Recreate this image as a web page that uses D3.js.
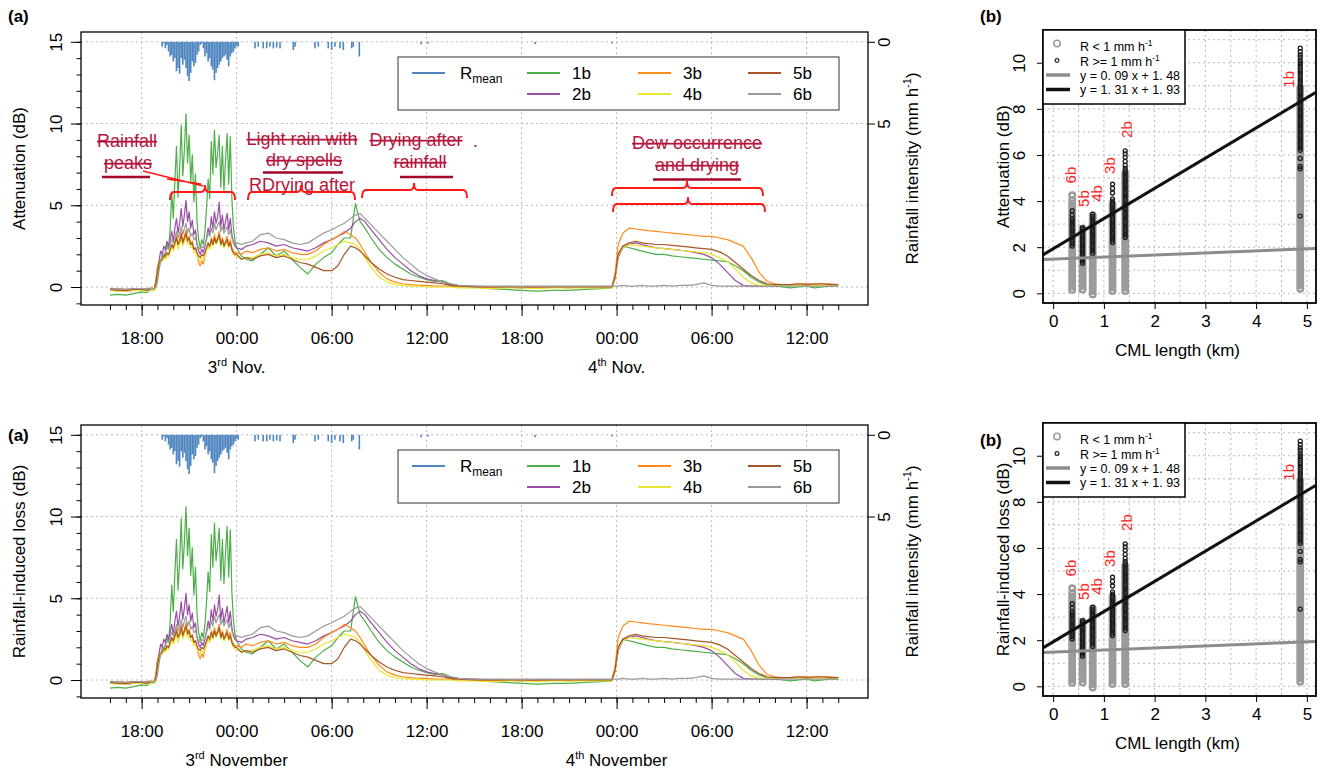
<!DOCTYPE html>
<html>
<head>
<meta charset="utf-8">
<script src="https://cdnjs.cloudflare.com/ajax/libs/d3/7.8.5/d3.min.js"></script>
<style>
  body { margin: 0; background: #fff; }
  svg { font-family: "Liberation Sans", Arial, sans-serif; }
</style>
</head>
<body>
<svg id="fig" width="1320" height="770"></svg>
<script>
// ---- data ----
// hours after 16:00 on 2 Nov
var attHours = [0, 0.5, 1, 1.5, 2, 2.3, 2.6,
  2.8, 2.9, 3.0, 3.1, 3.2, 3.3, 3.4, 3.5, 3.6, 3.7, 3.8, 3.9, 4.0, 4.1, 4.2, 4.3, 4.4, 4.5, 4.6, 4.7, 4.8, 4.9,
  5.0, 5.1, 5.2, 5.3, 5.4, 5.5, 5.6, 5.7, 5.8, 5.9, 6.0, 6.1, 6.2, 6.3, 6.4, 6.5, 6.6, 6.7, 6.8, 6.9,
  7.0, 7.1, 7.2, 7.3, 7.4, 7.5, 7.6, 7.7, 7.8, 7.9, 8.0,
  8.3, 8.6, 9, 9.5, 10, 10.5, 11, 11.5, 12, 12.5, 13, 13.5, 14, 14.4, 14.8, 15.2, 15.5, 15.8, 16.1, 16.5,
  17, 17.5, 18, 18.5, 19, 19.5, 20, 20.5, 21, 21.5,
  22, 23, 24, 25, 26, 27, 28, 29, 30, 31, 31.7,
  31.9, 32.1, 32.4, 32.8, 33.2, 33.6, 34, 34.5, 35, 35.5, 36, 36.5, 37, 37.5, 38, 38.5, 39, 39.5, 40, 40.5,
  41, 41.5, 42, 42.5, 43, 43.5, 44, 44.5, 45, 45.5, 46]

var att1b = [-0.5, -0.45, -0.5, -0.4, -0.3, -0.35, -0.15,
  -0.2, 0.3, 1.2, 1.6, 1.5, 2.0, 1.8, 2.2, 2.6, 2.3, 3.5, 5.8, 4.2, 6.5, 8.6, 5.5, 7.2, 9.9, 6.8, 8.4, 10.6, 7.6,
  9.3, 6.4, 8.1, 5.2, 6.9, 4.0, 2.9, 2.4, 2.9, 2.6, 3.4, 4.8, 6.6, 5.4, 8.9, 6.9, 9.6, 7.3, 8.2, 9.3,
  6.1, 8.6, 5.9, 7.8, 9.4, 6.3, 9.2, 5.4, 3.6, 2.8, 2.4,
  1.9, 1.7, 1.6, 2.0, 2.4, 1.9, 2.2, 1.7, 1.2, 0.8, 1.4, 1.8, 2.1, 2.6, 3.0, 3.0, 5.1, 4.0, 3.6, 3.0,
  2.3, 1.8, 1.4, 1.1, 0.8, 0.6, 0.45, 0.35, 0.4, 0.2,
  0.1, 0.0, -0.1, -0.15, -0.2, -0.25, -0.2, -0.2, -0.15, -0.1, -0.05,
  0.6, 2.0, 2.5, 2.4, 2.3, 2.2, 2.1, 2.0, 2.0, 1.9, 1.85, 1.8, 1.75, 1.7, 1.65, 1.6, 1.55, 1.3, 1.0, 0.6,
  0.3, 0.15, 0.05, 0.0, -0.05, 0.0, 0.05, -0.05, 0.0, 0.05, 0.05]

var att2b = [-0.2, -0.2, -0.25, -0.2, -0.2, -0.2, -0.1,
  -0.1, 0.1, 0.5, 1.6, 2.2, 2.0, 2.5, 2.3, 2.8, 2.5, 2.9, 3.4, 2.8, 3.6, 4.2, 3.3, 3.9, 4.8, 3.7, 4.4, 5.3, 4.0,
  4.6, 3.6, 4.1, 3.2, 3.5, 2.6, 2.2, 2.0, 2.3, 2.1, 2.5, 3.0, 3.6, 3.2, 4.3, 3.6, 4.6, 3.9, 4.3, 5.2,
  3.7, 4.4, 3.5, 4.0, 4.5, 3.5, 4.2, 3.2, 2.7, 2.5, 2.4,
  2.3, 2.5, 2.6, 2.8, 2.7, 2.5, 2.6, 2.4, 2.3, 2.2, 2.4, 2.7, 2.9, 3.1, 3.3, 3.6, 4.0, 4.2, 4.0, 3.5,
  2.9, 2.3, 1.8, 1.4, 1.0, 0.7, 0.5, 0.4, 0.3, 0.15,
  0.1, 0.05, 0.0, 0.0, -0.05, 0.0, 0.0, 0.0, 0.0, 0.0, 0.0,
  0.5, 1.8, 2.4, 2.6, 2.7, 2.6, 2.5, 2.4, 2.35, 2.3, 2.25, 2.2, 2.1, 2.0, 1.8, 1.4, 0.9, 0.4, 0.1, 0.05,
  0.05, 0.05, 0.05, 0.1, 0.1, 0.1, 0.1, 0.15, 0.1, 0.1, 0.1]

var att3b = [-0.1, -0.1, -0.15, -0.1, -0.1, -0.1, -0.05,
  -0.1, 0.4, 1.2, 1.5, 1.7, 1.6, 1.9, 1.8, 2.0, 1.9, 2.2, 2.6, 2.3, 2.8, 3.2, 2.6, 2.9, 3.4, 2.8, 3.1, 3.5, 2.9,
  3.1, 2.6, 2.8, 2.3, 2.4, 2.0, 1.5, 1.3, 1.6, 1.4, 1.9, 2.3, 2.7, 2.4, 3.0, 2.7, 3.2, 2.8, 3.0, 3.4,
  2.7, 3.0, 2.6, 2.8, 3.1, 2.6, 2.9, 2.4, 2.2, 2.1, 2.1,
  2.0, 2.2, 2.1, 2.3, 2.4, 2.2, 2.3, 2.1, 2.0, 2.0, 2.2, 2.6, 2.9, 3.1, 3.4, 3.2, 3.0, 2.6, 2.1, 1.5,
  0.9, 0.5, 0.3, 0.2, 0.15, 0.1, 0.1, 0.05, 0.05, 0.05,
  0.0, 0.0, -0.05, 0.0, 0.0, 0.0, 0.0, -0.05, 0.0, 0.0, 0.0,
  0.8, 2.6, 3.3, 3.6, 3.55, 3.5, 3.45, 3.4, 3.35, 3.3, 3.25, 3.2, 3.15, 3.1, 3.1, 3.0, 2.9, 2.7, 2.5, 1.8,
  0.9, 0.35, 0.2, 0.15, 0.15, 0.2, 0.2, 0.15, 0.2, 0.2, 0.15]

var att4b = [-0.2, -0.25, -0.25, -0.2, -0.2, -0.25, -0.15,
  -0.2, -0.1, 0.5, 1.2, 1.5, 1.6, 1.8, 1.7, 1.9, 1.9, 2.1, 2.4, 2.2, 2.5, 2.8, 2.3, 2.6, 3.0, 2.5, 2.8, 3.1, 2.6,
  2.8, 2.4, 2.5, 2.1, 2.2, 1.9, 1.7, 1.6, 1.8, 1.7, 1.9, 2.2, 2.5, 2.3, 2.7, 2.5, 2.9, 2.6, 2.8, 3.1,
  2.5, 2.8, 2.4, 2.6, 2.8, 2.4, 2.6, 2.2, 2.0, 1.9, 1.9,
  1.7, 1.8, 1.8, 2.0, 2.1, 1.9, 2.0, 1.8, 1.7, 1.7, 1.9, 2.2, 2.4, 2.6, 2.8, 2.7, 2.6, 2.3, 1.8, 1.2,
  0.6, 0.3, 0.15, 0.1, 0.05, 0.05, 0.0, 0.0, 0.0, 0.0,
  -0.05, -0.05, -0.1, -0.05, -0.05, -0.1, -0.05, -0.05, -0.05, -0.05, -0.05,
  0.5, 1.9, 2.4, 2.6, 2.55, 2.5, 2.45, 2.4, 2.35, 2.3, 2.25, 2.2, 2.15, 2.1, 2.0, 1.8, 1.55, 1.1, 0.6, 0.25,
  0.1, 0.1, 0.1, 0.1, 0.1, 0.1, 0.1, 0.1, 0.1, 0.1, 0.1]

var att5b = [-0.15, -0.2, -0.2, -0.15, -0.15, -0.2, -0.1,
  -0.1, 0.2, 0.9, 1.4, 1.6, 1.7, 1.9, 1.9, 2.1, 2.0, 2.3, 2.6, 2.4, 2.7, 3.0, 2.6, 2.8, 3.2, 2.7, 3.0, 3.3, 2.8,
  3.0, 2.6, 2.7, 2.3, 2.4, 2.1, 1.9, 1.8, 2.0, 1.9, 2.1, 2.4, 2.7, 2.5, 2.9, 2.6, 3.0, 2.7, 2.9, 3.2,
  2.6, 2.9, 2.5, 2.7, 2.9, 2.5, 2.7, 2.3, 2.1, 2.0, 2.0,
  1.7, 1.8, 1.7, 1.9, 2.0, 1.8, 1.9, 1.7, 1.5, 1.4, 1.2, 1.0, 1.0, 1.3, 2.0, 2.5, 2.4, 2.2, 1.9, 1.5,
  1.1, 0.8, 0.6, 0.45, 0.4, 0.35, 0.3, 0.25, 0.2, 0.1,
  0.05, 0.0, 0.0, 0.0, 0.0, 0.0, 0.0, 0.0, 0.0, 0.0, 0.0,
  0.6, 2.0, 2.5, 2.7, 2.8, 2.7, 2.65, 2.6, 2.6, 2.55, 2.5, 2.45, 2.4, 2.35, 2.3, 2.15, 1.9, 1.5, 1.1, 0.7,
  0.4, 0.2, 0.15, 0.15, 0.15, 0.2, 0.15, 0.2, 0.2, 0.15, 0.15]

var att6b = [-0.1, -0.1, -0.15, -0.1, -0.1, -0.1, -0.1,
  -0.1, 0.0, 0.3, 1.0, 1.6, 1.8, 2.0, 2.1, 2.4, 2.3, 2.6, 2.9, 2.7, 3.0, 3.4, 3.0, 3.3, 3.7, 3.2, 3.6, 3.9, 3.3,
  3.6, 3.1, 3.3, 2.9, 3.0, 2.6, 2.4, 2.3, 2.5, 2.4, 2.6, 2.9, 3.3, 3.1, 3.6, 3.3, 3.9, 3.5, 3.8, 4.0,
  3.4, 3.7, 3.3, 3.5, 3.7, 3.2, 3.5, 3.0, 2.8, 2.7, 2.7,
  2.6, 2.7, 2.8, 3.2, 3.3, 3.0, 2.9, 2.7, 2.6, 2.7, 3.0, 3.3, 3.5, 3.7, 3.9, 4.2, 4.4, 4.5, 4.2, 3.8,
  3.3, 2.8, 2.3, 1.8, 1.4, 1.0, 0.7, 0.5, 0.3, 0.2,
  0.1, 0.05, 0.05, 0.05, 0.05, 0.05, 0.05, 0.05, 0.05, 0.05, 0.05,
  0.05, 0.05, 0.1, 0.05, 0.05, 0.1, 0.05, 0.05, 0.1, 0.05, 0.1, 0.1, 0.15, 0.25, 0.1, 0.05, 0.05, 0.05, 0.05, 0.05,
  0.05, 0.05, 0.05, 0.05, 0.05, 0.05, 0.05, 0.05, 0.05, 0.05, 0.05]

var links = ["1b", "2b", "3b", "4b", "5b", "6b"]
var linkAtt = [att1b, att2b, att3b, att4b, att5b, att6b]
var linkColors = ["#4daf4a", "#984ea3", "#ff8c1a", "#e8e62e", "#a65628", "#9a9a9a"]
var rainColor = "#4f86bf"

// mean rainfall intensity (mm/h), hours after 16:00 on 2 Nov
var rainHours = [3.3, 3.4, 3.5, 3.6, 3.7, 3.8, 3.9, 4.0, 4.1, 4.2, 4.3, 4.4, 4.5, 4.6, 4.7, 4.8, 4.9,
  5.0, 5.1, 5.2, 5.3, 5.4, 5.5, 5.6, 5.7, 5.8, 5.9, 6.0, 6.1, 6.2, 6.3, 6.4, 6.5, 6.6, 6.7, 6.8, 6.9,
  7.0, 7.1, 7.2, 7.3, 7.4, 7.5, 7.6, 7.7, 7.8, 7.9, 8.0,
  8.1, 9.16, 9.37, 9.68, 9.9, 10.1, 10.32, 10.53, 10.74, 11.58, 11.69, 12.95, 13.16, 13.79, 14.0, 14.21,
  14.53, 14.74, 15.27, 15.37, 15.75, 19.65, 20.1, 26.85, 31.7]
var rainMean = [0.3, 0.1, 0.4, 0.2, 0.6, 0.9, 0.8, 1.2, 1.0, 1.8, 1.6, 1.95, 1.0, 1.4, 1.1, 1.6, 2.1,
  2.4, 1.9, 1.2, 1.5, 1.3, 0.8, 0.6, 0.2, 0.1, 0.4, 0.9, 0.7, 1.2, 1.0, 1.5, 1.7, 2.35, 1.9, 1.6, 1.4,
  1.2, 1.0, 0.9, 0.8, 1.1, 1.5, 0.9, 0.7, 0.6, 0.4, 0.25,
  0.3, 0.4, 0.3, 0.4, 0.4, 0.3, 0.4, 0.35, 0.4, 0.5, 0.3, 0.4, 0.3, 0.4, 0.5, 0.3,
  0.4, 0.5, 0.4, 0.3, 0.9, 0.15, 0.1, 0.15, 0.1]

var attTicks = [0, 5, 10, 15]
var rainTicks = [0, 5]

// panel (b): link length (km) and attenuation samples
var linkLength = [4.87, 1.42, 1.17, 0.78, 0.58, 0.375]
var lowRainAtt = [
  [0.2, 0.35, 0.5, 0.65, 0.8, 0.95, 1.1, 1.25, 1.4, 1.55, 1.7, 1.85, 2.0, 2.15, 2.3, 2.45, 2.6, 2.75, 2.9, 3.05,
   3.2, 3.35, 3.5, 3.65, 3.8, 3.95, 4.1, 4.25, 4.4, 4.55, 4.7, 4.85, 5.0, 5.15, 5.3, 5.45, 5.6, 5.75, 5.9, 6.05,
   6.2, 6.35, 6.5, 6.65, 6.8, 6.95, 7.1, 7.25, 7.4, 7.55, 7.7, 7.85, 8.0, 8.15, 8.3, 8.45, 8.6, 8.75, 8.9],
  [0.1, 0.25, 0.4, 0.55, 0.7, 0.85, 1.0, 1.15, 1.3, 1.45, 1.6, 1.75, 1.9, 2.05, 2.2, 2.35, 2.5, 2.65, 2.8, 2.95,
   3.1, 3.25, 3.4, 3.55, 3.7, 3.85, 4.0, 4.15, 4.3, 4.45, 4.6, 4.75, 4.9, 5.05, 5.2],
  [0.1, 0.25, 0.4, 0.55, 0.7, 0.85, 1.0, 1.15, 1.3, 1.45, 1.6, 1.75, 1.9, 2.05, 2.2, 2.35, 2.5, 2.65, 2.8, 2.95,
   3.1, 3.25, 3.4, 3.55, 3.7, 3.85],
  [-0.05, 0.1, 0.25, 0.4, 0.55, 0.7, 0.85, 1.0, 1.15, 1.3, 1.45, 1.6, 1.75, 1.9, 2.05, 2.2, 2.35, 2.5, 2.65, 2.8,
   2.95, 3.1, 3.25, 3.37],
  [0.17, 0.32, 0.47, 0.62, 0.77, 0.92, 1.07, 1.22, 1.37, 1.52, 1.67, 1.82, 1.97, 2.12, 2.27, 2.42, 2.57, 2.72, 2.8],
  [0.15, 0.3, 0.45, 0.6, 0.75, 0.9, 1.05, 1.2, 1.35, 1.5, 1.65, 1.8, 1.95, 2.1, 2.25, 2.4, 2.55, 2.7, 2.85, 3.0,
   3.15, 3.3, 3.45, 3.6, 3.75, 3.9, 4.05, 4.25]
]
var highRainAtt = [
  [3.35, 5.4, 5.5, 5.85, 6.2, 6.3, 6.4, 6.5, 6.6, 6.7, 6.8, 6.9, 7.0, 7.1, 7.2, 7.3, 7.4, 7.5, 7.6, 7.7, 7.8,
   7.9, 8.0, 8.1, 8.2, 8.3, 8.4, 8.5, 8.6, 8.7, 8.8, 8.9, 9.0, 9.1, 9.2, 9.3, 9.4, 9.5, 9.6, 9.7, 9.8, 9.9, 10.0,
   10.1, 10.24, 10.34, 10.48, 10.63],
  [2.42, 2.52, 2.62, 2.72, 2.82, 2.92, 3.02, 3.12, 3.22, 3.32, 3.42, 3.52, 3.62, 3.72, 3.82, 3.92, 4.02, 4.12,
   4.22, 4.32, 4.42, 4.52, 4.62, 4.72, 4.82, 4.92, 5.02, 5.12, 5.22, 5.32, 5.42, 5.55, 5.72, 5.9, 6.05, 6.18],
  [2.2, 2.3, 2.4, 2.5, 2.6, 2.7, 2.8, 2.9, 3.0, 3.1, 3.2, 3.3, 3.4, 3.5, 3.6, 3.7, 3.8, 3.9, 4.0, 4.1, 4.35, 4.55, 4.73],
  [1.73, 1.83, 1.93, 2.03, 2.13, 2.23, 2.33, 2.43, 2.53, 2.63, 2.73, 2.83, 2.93, 3.03, 3.13, 3.23, 3.33, 3.43],
  [1.3, 1.4, 1.5, 1.6, 1.7, 1.8, 1.9, 2.0, 2.1, 2.2, 2.3, 2.4, 2.5, 2.6, 2.7, 2.78, 2.85],
  [2.05, 2.15, 2.25, 2.35, 2.45, 2.55, 2.65, 2.75, 2.85, 2.95, 3.05, 3.15, 3.25, 3.4, 3.58]
]
// where the red link names sit (km, dB)
var labelKm = [4.65, 1.46, 1.12, 0.86, 0.6, 0.35]
var labelDb = [9.28, 7.1, 5.54, 4.33, 4.11, 5.13]
var fitSlopes = [0.09, 1.31]
var fitIntercepts = [1.48, 1.93]
var fitColors = ["#8c8c8c", "#111111"]
var kmTicks = [0, 1, 2, 3, 4, 5]
var dbTicks = [0, 2, 4, 6, 8, 10]

// ---- drawing ----
var svg = d3.select("#fig")
var T0 = Date.UTC(2021, 10, 2, 16, 0)
function hr(h) { return new Date(T0 + h * 3600e3) }
var GRID = "#b9b9b9"

function styleAxis(a) {
  a.attr("font-family", null).attr("font-size", 17)
  a.select(".domain").remove()
  a.selectAll("text").attr("fill", "#000")
}

function panelA(dy, yLabel, dayWord, notes) {
  var L = 81, R = 868, T = 32, B = 305
  var g = svg.append("g").attr("transform", "translate(0," + dy + ")")
  var x = d3.scaleUtc().domain([hr(-1.83), hr(47.88)]).range([L, R])
  var y = d3.scaleLinear().domain([-1.1, 15.6]).range([B, T])
  var yR = d3.scaleLinear().domain([0, 5]).range([y(15), y(10)])
  var major = d3.utcHour.every(6).range(hr(0), hr(46.01))
  var minor = d3.utcHour.range(hr(0), hr(46.01))

  // dotted grid
  g.append("g").selectAll("line").data(major).join("line")
    .attr("x1", d => x(d)).attr("x2", d => x(d)).attr("y1", T).attr("y2", B)
    .attr("stroke", GRID).attr("stroke-dasharray", "2,3")
  g.append("g").selectAll("line").data(attTicks).join("line")
    .attr("x1", L).attr("x2", R).attr("y1", d => y(d)).attr("y2", d => y(d))
    .attr("stroke", GRID).attr("stroke-dasharray", "2,3")

  // rainfall hanging from the top
  g.append("g").selectAll("rect").data(rainHours).join("rect")
    .attr("x", d => x(hr(d)) - 0.8).attr("width", 1.6)
    .attr("y", yR(0))
    .attr("height", (d, i) => yR(rainMean[i]) - yR(0))
    .attr("fill", rainColor)

  // attenuation lines
  var line = d3.line().x((d, i) => x(hr(attHours[i]))).y(d => y(d))
  linkAtt.forEach(function(vals, k) {
    g.append("path").datum(vals)
      .attr("fill", "none").attr("stroke", linkColors[k]).attr("stroke-width", 1.2)
      .attr("stroke-linejoin", "round")
      .attr("d", line)
  })

  g.append("rect").attr("x", L).attr("y", T).attr("width", R - L).attr("height", B - T)
    .attr("fill", "none").attr("stroke", "#000").attr("stroke-width", 1.3)

  // x axis
  g.append("g").attr("transform", "translate(0," + B + ")")
    .call(d3.axisBottom(x).tickValues(minor).tickSize(5).tickFormat(""))
    .call(styleAxis)
  g.append("g").attr("transform", "translate(0," + B + ")")
    .call(d3.axisBottom(x).tickValues(major).tickSize(11).tickPadding(16).tickFormat(d3.utcFormat("%H:%M")))
    .call(styleAxis)

  // day labels under midnight
  ;[[8, "3", "rd"], [32, "4", "th"]].forEach(function(d) {
    var t = g.append("text").attr("x", x(hr(d[0]))).attr("y", 373)
      .attr("text-anchor", "middle").attr("font-size", 17)
    t.append("tspan").text(d[1])
    t.append("tspan").attr("dy", -7).attr("font-size", 11).text(d[2])
    t.append("tspan").attr("dy", 7).text(" " + dayWord)
  })

  // left axis
  g.append("g").attr("transform", "translate(" + L + ",0)")
    .call(d3.axisLeft(y).tickValues(d3.range(-1, 16)).tickSize(4.5).tickFormat(""))
    .call(styleAxis)
  g.append("g").attr("transform", "translate(" + L + ",0)")
    .call(d3.axisLeft(y).tickValues(attTicks).tickSize(10))
    .call(styleAxis)
    .selectAll("text").attr("x", 0).attr("dy", null).attr("y", -19)
    .attr("text-anchor", "middle").attr("transform", "rotate(-90)")

  // right axis (rain)
  g.append("g").attr("transform", "translate(" + R + ",0)")
    .call(d3.axisRight(yR).tickValues(rainTicks).tickSize(7).tickFormat(d3.format("d")))
    .call(styleAxis)
    .selectAll("text").attr("x", 0).attr("dy", null).attr("y", 22)
    .attr("text-anchor", "middle").attr("transform", "rotate(-90)")

  g.append("text").attr("transform", "translate(25," + (T + B) / 2 + ") rotate(-90)")
    .attr("text-anchor", "middle").attr("font-size", 17).text(yLabel)
  var rl = g.append("text").attr("transform", "translate(918," + (T + B) / 2 + ") rotate(-90)")
    .attr("text-anchor", "middle").attr("font-size", 17)
  rl.append("tspan").text("Rainfall intensity (mm h")
  rl.append("tspan").attr("dy", -7).attr("font-size", 11).text("-1")
  rl.append("tspan").attr("dy", 7).text(")")

  // legend
  var lg = g.append("g")
  lg.append("rect").attr("x", 398).attr("y", 57).attr("width", 441).attr("height", 53)
    .attr("fill", "#fff").attr("stroke", "#333").attr("stroke-width", 1)
  var colX = [412, 527, 638, 748], textX = [460, 572, 683, 793], rowY = [73, 94]
  var entries = [[0, 0, rainColor, null]]
  links.forEach(function(l, k) { entries.push([1 + Math.floor(k / 2), k % 2, linkColors[k], l]) })
  entries.forEach(function(e) {
    lg.append("line").attr("x1", colX[e[0]]).attr("x2", colX[e[0]] + 33)
      .attr("y1", rowY[e[1]]).attr("y2", rowY[e[1]])
      .attr("stroke", e[2]).attr("stroke-width", 2)
    var t = lg.append("text").attr("x", textX[e[0]]).attr("y", rowY[e[1]] + 6).attr("font-size", 17)
    if (e[3]) t.text(e[3])
    else {
      t.append("tspan").text("R")
      t.append("tspan").attr("dy", 4).attr("font-size", 12).text("mean")
    }
  })

  if (notes) drawNotes(g)
}

function drawNotes(g) {
  var txtCol = "#b5163e", ulCol = "#a3062c", brCol = "#ff1a1a"
  var texts = [
    ["Rainfall", 127, 147, true], ["peaks", 128, 169, true],
    ["Light rain with", 302, 145, true], ["dry spells", 304, 166, true],
    ["RDrying after", 302, 191, false],
    ["Drying after", 416, 146, true], ["rainfall", 420, 168, true],
    ["Dew occurrence", 697, 149, true], ["and drying", 697, 171, true]
  ]
  texts.forEach(function(d) {
    g.append("text").attr("x", d[1]).attr("y", d[2]).attr("text-anchor", "middle")
      .attr("font-size", 18).attr("fill", txtCol)
      .style("text-decoration", d[3] ? "line-through" : "none")
      .text(d[0])
  })
  g.append("text").attr("x", 473).attr("y", 147).attr("font-size", 18).attr("fill", txtCol).text(".")
  var unders = [[102, 150, 177], [263, 343, 172.5], [400, 453, 177], [653, 741, 179.5]]
  unders.forEach(function(u) {
    g.append("line").attr("x1", u[0]).attr("x2", u[1]).attr("y1", u[2]).attr("y2", u[2])
      .attr("stroke", ulCol).attr("stroke-width", 2.5)
  })
  g.append("path").attr("d", "M143,171 L203,186 M167,179 L201,184")
    .attr("stroke", brCol).attr("stroke-width", 1.5).attr("fill", "none")
  var braces = [[170, 235, 205, 192], [248, 355, 301, 192], [362, 467, 414, 190], [612, 763, 687, 188], [613, 765, 688, 204]]
  braces.forEach(function(b) {
    var x0 = b[0], x1 = b[1], xm = b[2], yy = b[3]
    var p = "M" + x0 + "," + (yy + 8) + " Q" + x0 + "," + yy + " " + (x0 + 4) + "," + yy +
      " L" + (xm - 4) + "," + yy + " Q" + xm + "," + yy + " " + xm + "," + (yy - 7) +
      " Q" + xm + "," + yy + " " + (xm + 4) + "," + yy +
      " L" + (x1 - 4) + "," + yy + " Q" + x1 + "," + yy + " " + x1 + "," + (yy + 8)
    g.append("path").attr("d", p).attr("fill", "none").attr("stroke", brCol).attr("stroke-width", 2)
  })
}

function panelB(dy, yLabel) {
  var L = 1043, R = 1316, T = 30, B = 303
  var g = svg.append("g").attr("transform", "translate(0," + dy + ")")
  var x = d3.scaleLinear().domain([-0.2, 5.18]).range([L, R])
  var y = d3.scaleLinear().domain([-0.42, 11.42]).range([B, T])
  var clipId = "clipb" + dy
  g.append("clipPath").attr("id", clipId).append("rect")
    .attr("x", L).attr("y", T).attr("width", R - L).attr("height", B - T)

  g.append("g").selectAll("line").data(d3.range(0, 5.01, 0.5)).join("line")
    .attr("x1", d => x(d)).attr("x2", d => x(d)).attr("y1", T).attr("y2", B)
    .attr("stroke", GRID).attr("stroke-dasharray", "2,3")
  g.append("g").selectAll("line").data(d3.range(0, 12)).join("line")
    .attr("x1", L).attr("x2", R).attr("y1", d => y(d)).attr("y2", d => y(d))
    .attr("stroke", GRID).attr("stroke-dasharray", "2,3")

  var pts = g.append("g").attr("clip-path", "url(#" + clipId + ")")
  lowRainAtt.forEach(function(vals, k) {
    pts.append("g").selectAll("circle").data(vals).join("circle")
      .attr("cx", x(linkLength[k])).attr("cy", d => y(d)).attr("r", 2.8)
      .attr("fill", "none").attr("stroke", "#9b9b9b").attr("stroke-width", 2.4)
  })
  highRainAtt.forEach(function(vals, k) {
    pts.append("g").selectAll("circle").data(vals).join("circle")
      .attr("cx", x(linkLength[k])).attr("cy", d => y(d)).attr("r", 2)
      .attr("fill", "none").attr("stroke", "#1c1c1c").attr("stroke-width", 1.3)
  })
  fitSlopes.forEach(function(s, k) {
    var xs = x.domain()
    pts.append("line")
      .attr("x1", x(xs[0])).attr("y1", y(fitIntercepts[k] + s * xs[0]))
      .attr("x2", x(xs[1])).attr("y2", y(fitIntercepts[k] + s * xs[1]))
      .attr("stroke", fitColors[k]).attr("stroke-width", 3)
  })
  links.forEach(function(l, k) {
    g.append("text").attr("transform", "translate(" + (x(labelKm[k]) + 5) + "," + y(labelDb[k]) + ") rotate(-90)")
      .attr("text-anchor", "middle").attr("font-size", 15).attr("fill", "#ff2424").text(l)
  })

  g.append("rect").attr("x", L).attr("y", T).attr("width", R - L).attr("height", B - T)
    .attr("fill", "none").attr("stroke", "#000").attr("stroke-width", 1.8)

  g.append("g").attr("transform", "translate(0," + B + ")")
    .call(d3.axisBottom(x).tickValues(kmTicks).tickSize(6).tickPadding(6).tickFormat(d3.format("d")))
    .call(styleAxis)
  g.append("g").attr("transform", "translate(" + L + ",0)")
    .call(d3.axisLeft(y).tickValues(dbTicks).tickSize(6))
    .call(styleAxis)
    .selectAll("text").attr("x", 0).attr("dy", null).attr("y", -18)
    .attr("text-anchor", "middle").attr("transform", "rotate(-90)")

  g.append("text").attr("x", (L + R) / 2 - 2).attr("y", 356).attr("text-anchor", "middle")
    .attr("font-size", 17).text("CML length (km)")
  g.append("text").attr("transform", "translate(1009," + (T + B) / 2 + ") rotate(-90)")
    .attr("text-anchor", "middle").attr("font-size", 17).text(yLabel)

  // legend
  var lg = g.append("g")
  lg.append("rect").attr("x", L).attr("y", T).attr("width", 142).attr("height", 74)
    .attr("fill", "#fff").attr("stroke", "#000").attr("stroke-width", 1.5)
  lg.append("circle").attr("cx", 1057).attr("cy", 43.5).attr("r", 3.2)
    .attr("fill", "none").attr("stroke", "#9b9b9b").attr("stroke-width", 1.5)
  lg.append("circle").attr("cx", 1057).attr("cy", 60.5).attr("r", 1.9)
    .attr("fill", "none").attr("stroke", "#222").attr("stroke-width", 1.2)
  fitColors.forEach(function(c, k) {
    lg.append("line").attr("x1", 1046).attr("x2", 1070).attr("y1", 75 + 14.5 * k).attr("y2", 75 + 14.5 * k)
      .attr("stroke", c).attr("stroke-width", 3.5)
  })
  ;[["R < 1 mm h", 50.5], ["R >= 1 mm h", 65.5]].forEach(function(d) {
    var t = lg.append("text").attr("x", 1080).attr("y", d[1]).attr("font-size", 12.5)
    t.append("tspan").text(d[0])
    t.append("tspan").attr("dy", -5).attr("font-size", 8.5).text("-1")
  })
  fitSlopes.forEach(function(s, k) {
    var sTxt = s.toFixed(2).replace(".", ". "), iTxt = fitIntercepts[k].toFixed(2).replace(".", ". ")
    lg.append("text").attr("x", 1080).attr("y", 79.5 + 14.5 * k).attr("font-size", 12.5)
      .text("y = " + sTxt + " x + " + iTxt)
  })
}

panelA(0, "Attenuation (dB)", "Nov.", true)
panelA(393, "Rainfall-induced loss (dB)", "November", false)
panelB(0, "Attenuation (dB)")
panelB(393, "Rainfall-induced loss (dB)")

svg.append("text").attr("x", 8).attr("y", 22).attr("font-size", 17).attr("font-weight", "bold").text("(a)")
svg.append("text").attr("x", 980).attr("y", 22).attr("font-size", 17).attr("font-weight", "bold").text("(b)")
svg.append("text").attr("x", 8).attr("y", 441).attr("font-size", 17).attr("font-weight", "bold").text("(a)")
svg.append("text").attr("x", 980).attr("y", 446).attr("font-size", 17).attr("font-weight", "bold").text("(b)")
</script>
</body>
</html>
